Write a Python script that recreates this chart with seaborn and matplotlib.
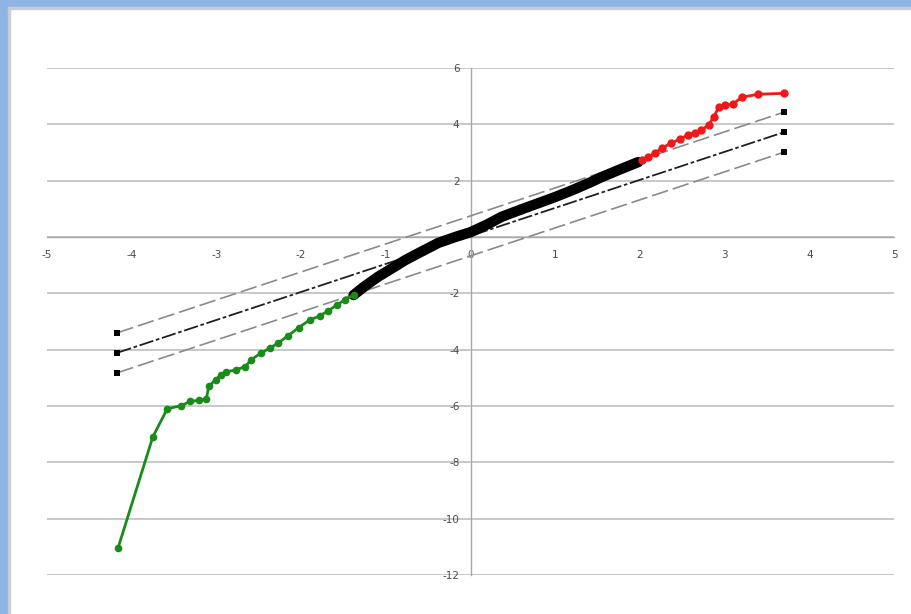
import matplotlib
matplotlib.use("Agg")
import matplotlib.pyplot as plt
from matplotlib.patches import Rectangle
import seaborn as sns
import pandas as pd

# Normal quantile plot: theoretical quantiles (x) vs. sample quantiles (y)
lower_x = [-4.16, -3.75, -3.58, -3.42, -3.31, -3.21, -3.12, -3.09, -3.01, -2.95,
           -2.89, -2.77, -2.66, -2.59, -2.47, -2.37, -2.27, -2.15, -2.03, -1.90,
           -1.78, -1.68, -1.58, -1.48, -1.38]
lower_y = [-11.03, -7.09, -6.10, -5.99, -5.84, -5.80, -5.76, -5.30, -5.07, -4.90,
           -4.79, -4.72, -4.60, -4.36, -4.11, -3.95, -3.76, -3.50, -3.22, -2.95,
           -2.80, -2.62, -2.42, -2.22, -2.06]

core_x = [-1.38, -1.25, -1.09, -0.92, -0.77, -0.58, -0.38, -0.18, 0.00, 0.20,
          0.37, 0.60, 0.80, 1.00, 1.20, 1.40, 1.55, 1.75, 1.98]
core_y = [-2.06, -1.75, -1.41, -1.10, -0.82, -0.52, -0.21, 0.00, 0.17, 0.45,
          0.72, 0.98, 1.20, 1.42, 1.66, 1.92, 2.13, 2.38, 2.66]

upper_x = [2.02, 2.10, 2.18, 2.26, 2.37, 2.47, 2.57, 2.65, 2.72, 2.81,
           2.87, 2.93, 3.01, 3.10, 3.20, 3.40, 3.70]
upper_y = [2.73, 2.85, 2.98, 3.16, 3.33, 3.48, 3.62, 3.70, 3.79, 3.97,
           4.26, 4.61, 4.68, 4.72, 4.96, 5.07, 5.10]

# Reference line and its confidence band
ref_x = [-4.17, 3.70]
ref_mid = [-4.11, 3.72]
ref_hi = [-3.40, 4.43]
ref_lo = [-4.82, 3.01]

x_ticks = [-5, -4, -3, -2, -1, 0, 1, 2, 3, 4, 5]
y_ticks = [-12, -10, -8, -6, -4, -2, 0, 2, 4, 6]

sns.set_theme(style="white")
plt.rcParams['font.family'] = ['DejaVu Sans']
plt.rcParams['axes.unicode_minus'] = False

fig = plt.figure(figsize=(9.11, 6.14), dpi=100)
fig.patch.set_facecolor("white")

# window frame
fig.add_artist(Rectangle((0, 1 - 7 / 614), 1, 7 / 614, transform=fig.transFigure,
                         color="#8db4e2", zorder=0))
fig.add_artist(Rectangle((0, 0), 8 / 911, 1, transform=fig.transFigure,
                         color="#8db4e2", zorder=0))
fig.add_artist(Rectangle((8 / 911, 0), 2 / 911, 1 - 7 / 614, transform=fig.transFigure,
                         color="#c9cdd3", zorder=0))
fig.add_artist(Rectangle((8 / 911, 1 - 9 / 614), 1, 2 / 614, transform=fig.transFigure,
                         color="#c9cdd3", zorder=0))

ax = fig.add_axes([47 / 911, 1 - 575 / 614, (894 - 47) / 911, (575 - 68) / 614])
ax.set_facecolor("none")

ref_df = pd.DataFrame({"x": ref_x, "mid": ref_mid, "hi": ref_hi, "lo": ref_lo})
for col, color, dashes, lw in [("hi", "#8a8a8a", (10, 3), 1.2),
                               ("lo", "#8a8a8a", (10, 3), 1.2),
                               ("mid", "#202020", (8, 1.5, 2, 1.5), 1.3)]:
    sns.lineplot(data=ref_df, x="x", y=col, ax=ax, color=color, linewidth=lw,
                 marker="s", markersize=4.5, markeredgewidth=0,
                 markerfacecolor="black", sort=False, estimator=None,
                 dashes=False, zorder=3).lines[-1].set_dashes(dashes)

core_df = pd.DataFrame({"x": core_x, "y": core_y})
sns.lineplot(data=core_df, x="x", y="y", ax=ax, color="black", linewidth=7.5,
             sort=False, estimator=None, zorder=4, solid_capstyle="round",
             solid_joinstyle="round")

lower_df = pd.DataFrame({"x": lower_x, "y": lower_y})
sns.lineplot(data=lower_df, x="x", y="y", ax=ax, color="#1a8a1a", linewidth=2.0,
             marker="o", markersize=5.5, markeredgewidth=0, sort=False,
             estimator=None, zorder=5)

upper_df = pd.DataFrame({"x": upper_x, "y": upper_y})
sns.lineplot(data=upper_df, x="x", y="y", ax=ax, color="#f01818", linewidth=2.0,
             marker="o", markersize=6, markeredgewidth=0, sort=False,
             estimator=None, zorder=5)

ax.set_xlim(-5, 5)
ax.set_ylim(-12, 6)
ax.set_xticks(x_ticks)
ax.set_yticks(y_ticks)
ax.set_xticklabels([str(v) for v in x_ticks])
ax.set_yticklabels([str(v) for v in y_ticks])
ax.set_xlabel("")
ax.set_ylabel("")

for side in ["top", "right"]:
    ax.spines[side].set_visible(False)
ax.spines["left"].set_position(("data", 0))
ax.spines["bottom"].set_position(("data", 0))
for side in ["left", "bottom"]:
    ax.spines[side].set_color("#a8a8a8")
    ax.spines[side].set_linewidth(1.0)
    ax.spines[side].set_zorder(1)

ax.yaxis.grid(True, color="#c8c8c8", linewidth=1.4)
ax.xaxis.grid(False)
ax.set_axisbelow(True)

ax.tick_params(axis="x", direction="out", length=3, width=0.8, color="#a8a8a8",
               pad=6, labelsize=7.5, labelcolor="#4a4a4a")
ax.tick_params(axis="y", direction="out", length=0, pad=8,
               labelsize=7.5, labelcolor="#4a4a4a")

fig.savefig("out.png", dpi=100, facecolor="white")
